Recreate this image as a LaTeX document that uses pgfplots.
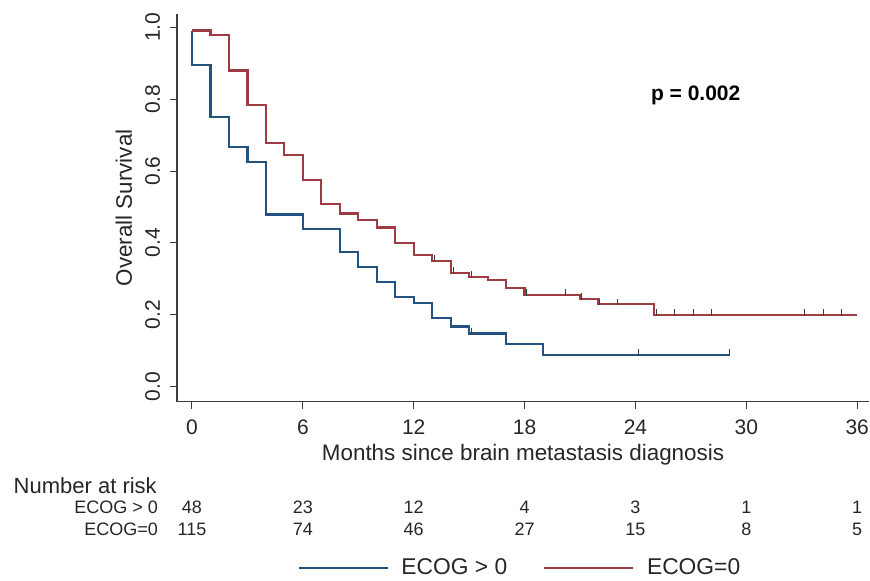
\documentclass[border=0pt]{standalone}
\usepackage{fontspec}
\setmainfont{Liberation Sans}
\usepackage{pgfplots}
\pgfplotsset{compat=1.18}
\definecolor{kmblue}{RGB}{36,82,128}
\definecolor{kmred}{RGB}{158,60,68}
\definecolor{axgray}{RGB}{60,60,60}
\begin{document}
\begin{tikzpicture}
\useasboundingbox (-88.5pt,-89.65pt) rectangle (346.5pt,200.85pt);
\begin{axis}[
  at={(0pt,0pt)}, anchor=south west,
  scale only axis, width=346pt, height=193.85pt,
  xmin=-0.81, xmax=36.64, ymin=-0.042, ymax=1.037,
  axis x line*=bottom, axis y line*=left,
  axis line style={-, axgray, line width=0.6pt},
  clip=false,
  tick align=outside,
  major tick length=3.5pt,
  tick style={axgray, line width=0.5pt},
  xtick={0,6,12,18,24,30,36},
  ytick={0,0.2,0.4,0.6,0.8,1},
  /pgf/number format/assume math mode=true,
  ticklabel style={font=\fontsize{10.5}{12}\selectfont, text=black!85},
  yticklabel={\pgfmathprintnumber[fixed,fixed zerofill,precision=1]{\tick}},
  yticklabel style={xshift=-5pt, rotate=90, anchor=base},
  xticklabel style={yshift=-2pt},
  xlabel={Months since brain metastasis diagnosis},
  ylabel={Overall Survival},
  xlabel style={at={(axis description cs:0.5,-0.1504)}, anchor=base, font=\fontsize{11.2}{13}\selectfont, text=black!85},
  ylabel style={at={(axis description cs:-0.0766,0.5)}, rotate=0, anchor=center, font=\fontsize{11.2}{13}\selectfont, text=black!85},
  legend style={at={(axis description cs:0.497,-0.429)}, anchor=center, draw=none, fill=none,
    legend columns=2, font=\fontsize{11.4}{13}\selectfont, text=black!85,
    /tikz/every odd column/.append style={column sep=4.5pt},
    /tikz/every even column/.append style={column sep=16pt}},
  legend image code/.code={\draw[#1, line width=0.9pt] (0pt,0pt) -- (44.5pt,0pt);},
]
\addplot[const plot, kmblue, line width=1.1pt] coordinates {
 (0,0.991) (0,0.896) (1,0.750) (2,0.667) (3,0.625) (4,0.479) (6,0.438)
 (8,0.375) (9,0.333) (10,0.292) (11,0.250) (12,0.232) (13,0.190) (14,0.167)
 (15,0.148) (17,0.118) (19,0.088) (29.11,0.088)};
\addlegendentry{ECOG > 0}
\addplot[const plot, kmred, line width=1.1pt] coordinates {
 (0,0.991) (1,0.979) (2,0.880) (3,0.784) (4,0.679) (5,0.644) (6,0.575)
 (7,0.509) (8,0.482) (9,0.463) (10,0.443) (11,0.400) (12,0.366) (13,0.350)
 (14,0.317) (15,0.306) (16,0.297) (17,0.274) (18,0.255) (21,0.244) (22,0.229)
 (25,0.199) (36,0.199)};
\addlegendentry{ECOG=0}
% censoring marks
\addplot[only marks, mark=|, mark size=1.6pt, forget plot,
  mark options={axgray, line width=0.5pt, yshift=1.3pt}] coordinates {
 (15.14,0.148) (24.17,0.088) (29.11,0.088)};
\addplot[only marks, mark=|, mark size=1.6pt, forget plot,
  mark options={axgray, line width=0.5pt, yshift=1.3pt}] coordinates {
 (13.12,0.350) (14.15,0.317) (15.14,0.306) (18.08,0.255) (20.19,0.255)
 (21.09,0.244) (22.03,0.229) (23.04,0.229) (25.15,0.199) (26.14,0.199)
 (27.13,0.199) (28.12,0.199) (33.13,0.199) (34.16,0.199) (35.15,0.199)};
% p-value
\node[anchor=base, font=\bfseries\fontsize{10.5}{12}\selectfont] at (axis cs:27.26,0.795) {p = 0.002};
% number at risk table
\node[anchor=base west, inner sep=0pt, font=\fontsize{11}{13}\selectfont, text=black!85] at (axis cs:-9.667,-0.2961) {Number at risk};
\node[anchor=base east, inner sep=0pt, font=\fontsize{9}{10}\selectfont, text=black!85] at (axis cs:-1.823,-0.3526) {ECOG > 0};
\node[anchor=base east, inner sep=0pt, font=\fontsize{9}{10}\selectfont, text=black!85] at (axis cs:-1.823,-0.4134) {ECOG=0};
\begin{scope}[every node/.style={anchor=base, inner sep=0pt, font=\fontsize{9}{10}\selectfont, text=black!85}]
\node at (axis cs:0,-0.3526) {48};
\node at (axis cs:6,-0.3526) {23};
\node at (axis cs:12,-0.3526) {12};
\node at (axis cs:18,-0.3526) {4};
\node at (axis cs:24,-0.3526) {3};
\node at (axis cs:30,-0.3526) {1};
\node at (axis cs:36,-0.3526) {1};
\node at (axis cs:0,-0.4134) {115};
\node at (axis cs:6,-0.4134) {74};
\node at (axis cs:12,-0.4134) {46};
\node at (axis cs:18,-0.4134) {27};
\node at (axis cs:24,-0.4134) {15};
\node at (axis cs:30,-0.4134) {8};
\node at (axis cs:36,-0.4134) {5};
\end{scope}
\end{axis}
\end{tikzpicture}
\end{document}
